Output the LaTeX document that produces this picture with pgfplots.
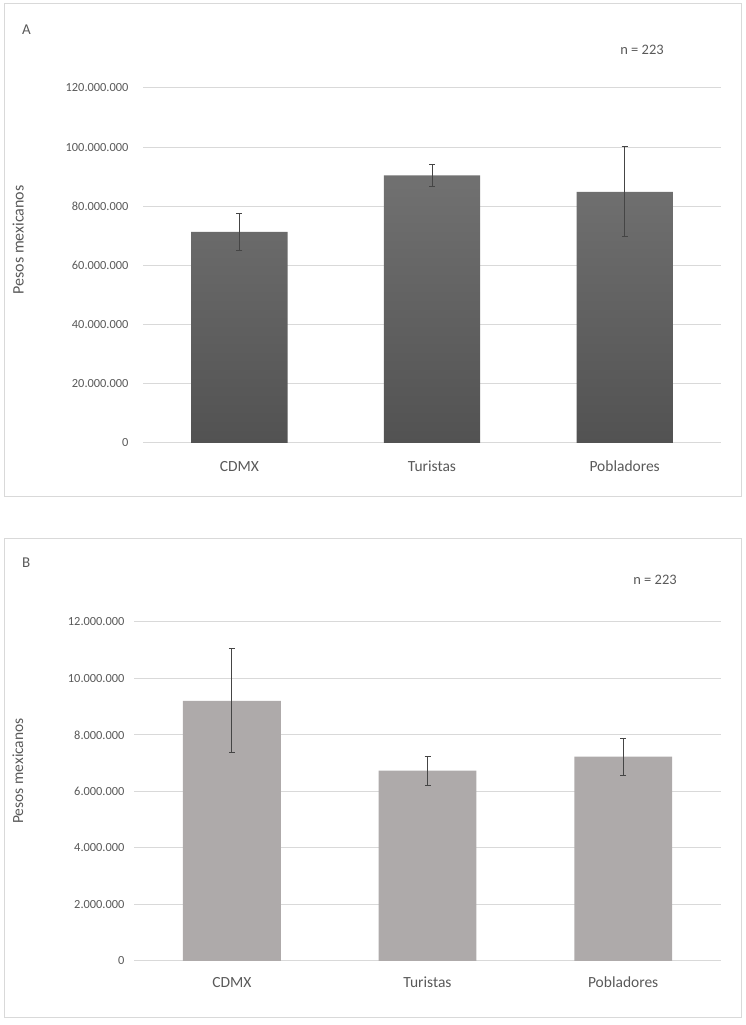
\documentclass[border=0pt]{standalone}
\usepackage{fontspec}
\setmainfont{Carlito}
\usepackage{pgfplots}
\pgfplotsset{compat=1.18}
\definecolor{txt}{HTML}{595959}
\definecolor{gridc}{HTML}{D9D9D9}
\definecolor{framec}{HTML}{D9D9D9}
\definecolor{barB}{HTML}{AEAAAA}
\definecolor{barAtop}{HTML}{717171}
\definecolor{barAbot}{HTML}{525252}
\definecolor{errc}{HTML}{454545}
\pgfplotsset{
  panel/.style={
    scale only axis,
    ybar,
    xmin=-0.5, xmax=2.5,
    ymin=0,
    bar width=0.5,
    axis line style={draw=none},
    major tick length=0pt,
    ymajorgrids,
    grid style={gridc, line width=1pt},
    xtick={0,1,2},
    xticklabels={CDMX,Turistas,Pobladores},
    x tick label style={font=\fontsize{15.5}{18}\selectfont, text=txt, anchor=base},
    y tick label style={font=\fontsize{12.4}{14}\selectfont, text=txt},
    scaled y ticks=false,
    /pgf/number format/fixed,
    /pgf/number format/precision=0,
    /pgf/number format/1000 sep={.},
    /pgf/number format/assume math mode=true,
    clip=false,
  },
  ebars/.style={
    error bars/.cd, y dir=both, y explicit,
    error bar style={errc, line width=0.9pt},
    error mark options={errc, line width=0.9pt, mark size=3pt, rotate=90},
  },
}
\begin{document}
\begin{tikzpicture}
\path[use as bounding box] (0,0) rectangle (746pt,1025pt);
% panel frames
\draw[framec, line width=1pt] (4pt,528pt) rectangle (741pt,1021pt);
\draw[framec, line width=1pt] (4pt,7pt) rectangle (741pt,486pt);

% ---------- Panel A ----------
\begin{axis}[panel,
  at={(143pt,582pt)}, anchor=south west,
  width=578pt, height=355pt,
  ymax=120000000,
  ytick={0,20000000,40000000,60000000,80000000,100000000,120000000},
  yticklabel style={xshift=-11pt},
  xticklabel style={yshift=-28.7pt},
]
\addplot[draw=none, top color=barAtop, bottom color=barAbot, ebars]
  coordinates {
    (0,71400000) +- (0,6300000)
    (1,90500000) +- (0,3800000)
    (2,84900000) +- (0,15200000)
  };
\end{axis}
\node[anchor=base west, text=txt, font=\fontsize{15}{18}\selectfont, inner sep=0pt] at (22pt,990.7pt) {A};
\node[anchor=base, text=txt, font=\fontsize{14.5}{18}\selectfont, inner sep=0pt] at (642pt,970.7pt) {n = 223};
\node[anchor=base, rotate=90, text=txt, font=\fontsize{16}{18}\selectfont, inner sep=0pt] at (23.5pt,785pt) {Pesos mexicanos};

% ---------- Panel B ----------
\begin{axis}[panel,
  at={(134pt,64pt)}, anchor=south west,
  width=587pt, height=339pt,
  ymax=12000000,
  ytick={0,2000000,4000000,6000000,8000000,10000000,12000000},
  yticklabel style={xshift=-6pt},
  xticklabel style={yshift=-26.3pt},
]
\addplot[draw=none, fill=barB, ebars]
  coordinates {
    (0,9210000) +- (0,1840000)
    (1,6740000) +- (0,510000)
    (2,7230000) +- (0,650000)
  };
\end{axis}
\node[anchor=base west, text=txt, font=\fontsize{15}{18}\selectfont, inner sep=0pt] at (22pt,457pt) {B};
\node[anchor=base, text=txt, font=\fontsize{14.5}{18}\selectfont, inner sep=0pt] at (655pt,440pt) {n = 223};
\node[anchor=base, rotate=90, text=txt, font=\fontsize{15.5}{18}\selectfont, inner sep=0pt] at (23pt,254pt) {Pesos mexicanos};
\end{tikzpicture}
\end{document}
